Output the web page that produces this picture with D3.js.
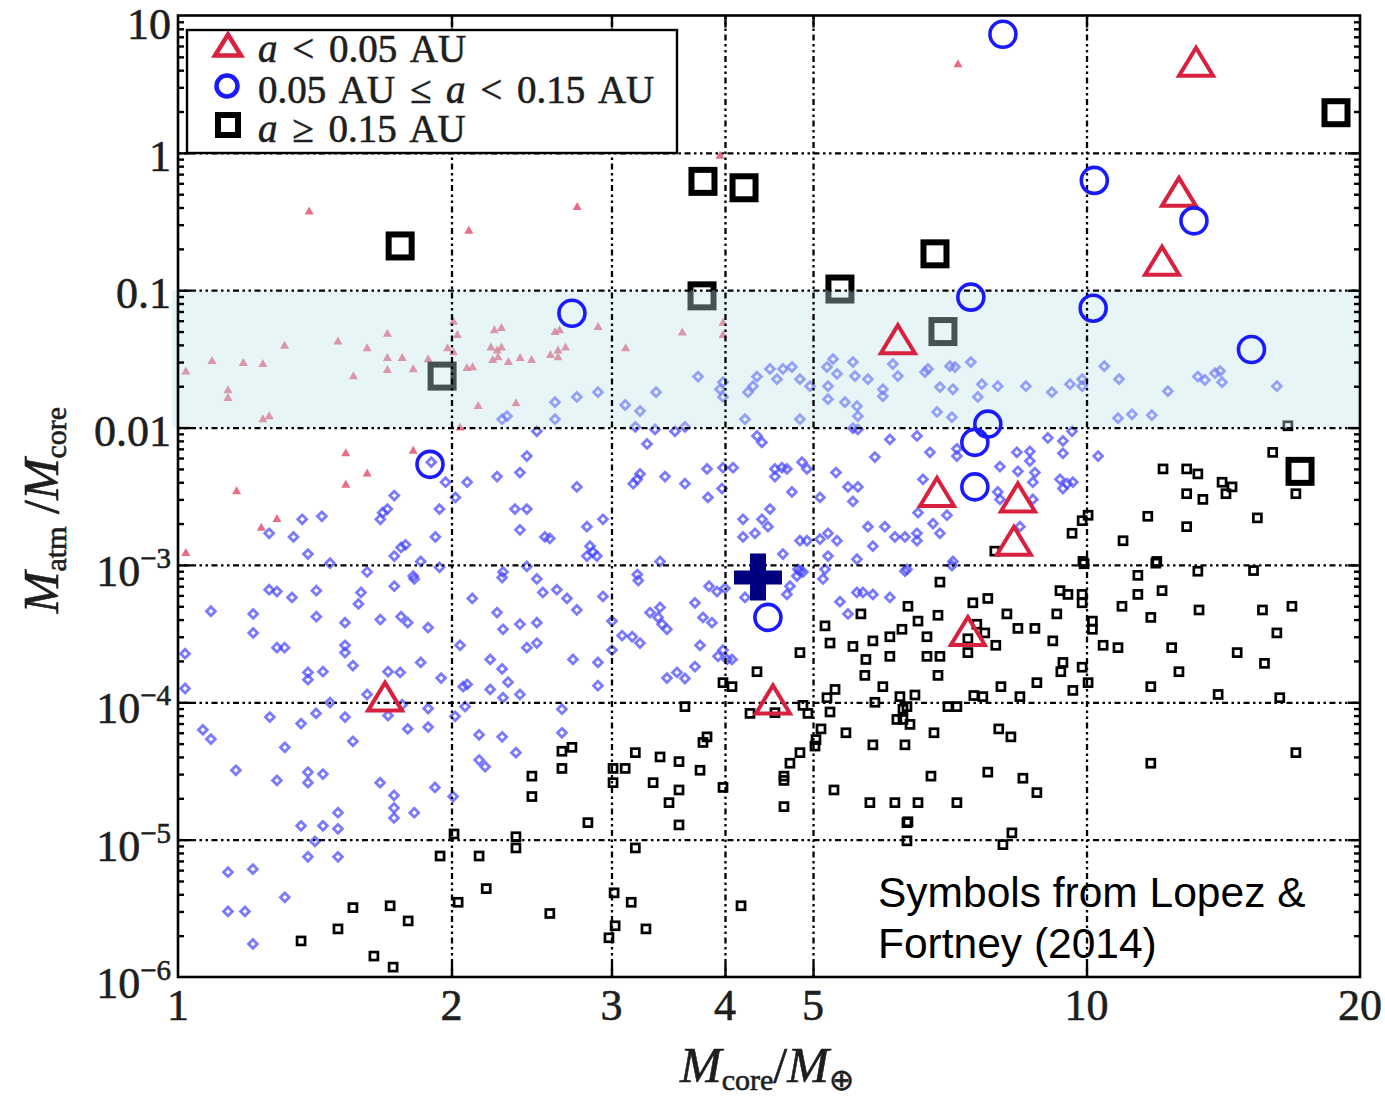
<!DOCTYPE html>
<html><head><meta charset="utf-8">
<script src="https://cdn.jsdelivr.net/npm/d3@7"></script>
<style>body{margin:0;background:#fff} svg{display:block}</style>
</head><body>
<svg id="c" width="1385" height="1100"></svg>
<script>
// ---------- axis definitions ----------
const xTickValues = [1, 2, 3, 4, 5, 10, 20];
const xTickLabels = ["1", "2", "3", "4", "5", "10", "20"];
const xGridValues = [2, 3, 4, 5, 10];
const yTickValues = [1e-6, 1e-5, 1e-4, 1e-3, 0.01, 0.1, 1, 10];
const yTickLabels = [["10","−6"], ["10","−5"], ["10","−4"], ["10","−3"], ["0.01",""], ["0.1",""], ["1",""], ["10",""]];
const yGridValues = [1e-5, 1e-4, 1e-3, 0.01, 0.1, 1];
const bandRange = [0.01, 0.1];
const legendLabels = [
  [["a","i"],[" < 0.05 AU",""]],
  [["0.05 AU ≤ ",""],["a","i"],[" < 0.15 AU",""]],
  [["a","i"],[" ≥ 0.15 AU",""]]
];
const annotation = ["Symbols from Lopez &", "Fortney (2014)"];

// ---------- data: [M_core/M_earth, M_atm/M_core] ----------
const redSmall = [
[1.02,0.026],[1.09,0.031],[1.18,0.030],[1.24,0.0295],[1.31,0.040],[1.135,0.019],[1.135,0.0167],[1.50,0.043],[1.615,0.0385],[1.56,0.024],
[1.70,0.049],[1.70,0.0326],[1.765,0.0326],[1.70,0.0267],[1.815,0.027],[1.885,0.032],[1.98,0.0385],[2.01,0.060],[2.03,0.048],[1.24,0.0117],
[1.26,0.0123],[1.815,0.0069],[1.53,0.0066],[1.615,0.0047],[1.53,0.0039],[1.16,0.0035],[1.285,0.0022],[1.235,0.0019],[1.02,0.00124],[2.01,0.036],
[2.23,0.052],[2.27,0.054],[2.21,0.039],[2.245,0.037],[2.27,0.039],[2.22,0.0315],[2.25,0.033],[2.31,0.0305],[2.38,0.0326],[2.45,0.0315],
[2.08,0.0276],[2.11,0.028],[2.57,0.0343],[2.62,0.037],[2.67,0.039],[2.62,0.033],[2.60,0.0505],[2.63,0.052],[2.90,0.055],[3.11,0.0385],
[3.59,0.050],[3.98,0.059],[3.98,0.048],[2.14,0.0146],[2.355,0.0153],[2.044,0.0102],[1.394,0.38],[2.09,0.275],[2.75,0.41],[3.95,0.97],[7.22,4.5]
];
const blueSmall = [
[1.90,0.0056],[1.97,0.0040],[2.02,0.0031],[1.73,0.0032],[1.70,0.00255],[1.68,0.0024],[1.67,0.00215],[1.94,0.00255],[1.44,0.00226],[1.37,0.00215],
[1.34,0.0016],[1.26,0.0017],[1.92,0.0016],[1.78,0.0014],[1.76,0.00134],[1.73,0.00116],[1.39,0.0012],[1.47,0.00103],[1.615,8.9e-4],[1.815,8.3e-4],
[1.85,0.00106],[1.94,9.6e-4],
[1.087,4.6e-4],[1.21,4.4e-4],[1.21,3.2e-4],[1.26,6.6e-4],[1.285,6.4e-4],[1.335,5.8e-4],[1.42,6.5e-4],[1.42,4.2e-4],[1.59,6.3e-4],[1.58,5.2e-4],
[1.73,7.0e-4],[1.82,7.9e-4],[1.67,4.0e-4],[1.76,4.2e-4],[1.79,3.8e-4],[1.885,3.5e-4],[1.527,3.8e-4],[1.285,2.5e-4],[1.31,2.5e-4],[1.527,2.6e-4],
[1.527,2.3e-4],[1.018,2.26e-4],[1.558,1.85e-4],[1.85,1.95e-4],[1.39,1.65e-4],[1.39,1.46e-4],[1.444,1.67e-4],[1.703,1.67e-4],[1.756,1.65e-4],[1.948,1.5e-4],
[1.018,1.26e-4],[1.615,1.14e-4],[1.47,9.96e-5],[1.765,9.6e-5],[1.703,8.0e-5],[1.885,9.0e-5],[1.885,6.6e-5],[1.262,7.8e-5],[1.366,7.0e-5],[1.419,8.3e-5],
[1.527,7.8e-5],[1.79,6.4e-5],[1.065,6.3e-5],[1.087,5.4e-5],[1.558,5.2e-5],[1.311,4.7e-5],[1.158,3.2e-5],[1.285,2.7e-5],[1.39,3.1e-5],[1.39,2.6e-5],
[1.444,3.0e-5],[1.669,2.6e-5],[1.918,2.4e-5],[1.729,2.1e-5],[1.729,1.7e-5],[1.729,1.44e-5],[1.82,1.57e-5],[1.50,1.57e-5],[1.366,1.26e-5],[1.444,1.26e-5],
[1.50,1.2e-5],[1.415,9.7e-6],[1.39,7.5e-6],[1.50,7.5e-6],[2.008,2.06e-5],[2.018,7.9e-5],
[1.135,5.8e-6],[1.209,6.1e-6],[1.135,3.0e-6],[1.185,3.0e-6],[1.311,3.8e-6],[1.209,1.74e-6],
[2.274,8.1e-4],[2.108,5.7e-4],[2.245,4.5e-4],[2.279,3.4e-4],[2.379,3.7e-4],[2.483,3.8e-4],[2.483,7.9e-4],[2.521,6.3e-4],[2.612,6.6e-4],[2.68,5.7e-4],
[2.748,4.7e-4],[2.421,2.5e-4],[2.483,2.7e-4],[2.044,2.6e-4],[2.206,2.05e-4],[2.274,1.75e-4],[2.308,1.4e-4],[2.06,1.3e-4],[2.081,1.35e-4],[2.206,1.24e-4],
[2.279,1.08e-4],[2.379,1.14e-4],[2.721,2.05e-4],[2.899,1.95e-4],[2.899,1.32e-4],[2.646,8.9e-5],[2.07,9.3e-5],[2.145,5.8e-5],[2.274,5.6e-5],[2.355,4.3e-5],
[2.646,6.0e-5],[2.145,3.8e-5],[2.178,3.4e-5],
[2.936,5.9e-4],[3.004,2.4e-4],[3.004,3.9e-4],[3.211,7.7e-4],[3.082,3.06e-4],[3.162,3.0e-4],[3.225,2.7e-4],[3.308,4.5e-4],[3.376,4.15e-4],[3.41,3.7e-4],
[3.453,3.4e-4],[3.393,4.9e-4],[3.707,5.3e-4],[3.783,4.15e-4],[3.87,3.8e-4],[3.755,2.6e-4],[3.93,2.16e-4],[4.021,2.05e-4],[4.072,2.05e-4],[3.707,1.82e-4],
[3.453,1.5e-4],[3.542,1.65e-4],[3.614,1.49e-4],[3.841,7.0e-4],[3.92,6.4e-4],[4.0,6.75e-4],[3.98,2.4e-4],[4.208,5.8e-4],[4.716,7.0e-4],[4.80,8.3e-4],
[4.837,9.0e-4],[4.68,6.1e-4],[5.128,7.9e-4],[5.353,5.4e-4],[5.463,4.4e-4],[5.588,6.3e-4],[5.674,6.3e-4],[5.819,6.1e-4],[6.075,5.8e-4],[6.312,9.0e-4],
[2.60,0.0153],[2.748,0.0167],[2.899,0.0181],[2.302,0.0121],[2.274,0.0115],[2.60,0.0115],[3.106,0.0146],[3.225,0.0132],[3.359,0.0181],[3.736,0.0235],
[3.98,0.0214],[3.98,0.0167],[3.95,0.019],[4.338,0.0235],[4.294,0.020],[4.24,0.0181],[4.483,0.0267],[4.633,0.0267],[4.74,0.0276],[4.563,0.0225],
[4.837,0.0225],[4.962,0.020],[5.26,0.0315],[5.18,0.0276],[5.313,0.0246],[5.56,0.0237],[5.746,0.0225],[5.532,0.030],[5.193,0.020],[5.193,0.0161],
[5.421,0.0153],[5.968,0.019],[5.968,0.0169],[6.121,0.029],[6.2,0.0237],[5.588,0.0143],[5.602,0.0121],[4.208,0.0115],[4.837,0.0115],
[5.532,0.0099],[5.602,0.0097],[2.483,0.0094],[3.187,0.0101],[3.35,0.0097],[3.524,0.0094],[3.614,0.0101],[3.283,0.0076],[4.338,0.0087],[4.393,0.0078],
[2.421,0.0062],[2.379,0.0047],[2.245,0.0044],[2.081,0.0040],[2.748,0.0037],[2.349,0.00255],[2.421,0.00255],[2.379,0.0018],[2.534,0.0016],[2.566,0.00156],
[2.819,0.0019],[2.936,0.00215],[2.841,0.00137],[2.862,0.00124],[2.819,0.00116],[2.891,0.00116],[3.225,0.0046],[3.203,0.0042],[3.17,0.0039],[3.436,0.0044],
[3.614,0.0039],[3.831,0.0031],[3.822,0.0050],[3.98,0.0051],[4.083,0.0051],[3.97,0.0036],[4.54,0.0050],[4.621,0.0051],[4.54,0.0044],[4.68,0.0050],
[4.862,0.0056],[4.924,0.0050],[4.74,0.0034],[4.187,0.00215],[4.393,0.00215],[4.46,0.0019],[4.316,0.0017],[4.483,0.00255],[4.187,0.0016],[4.837,0.0015],
[4.924,0.0015],[4.633,0.0012],[5.089,0.0031],[5.089,0.00154],[5.193,0.0017],[5.313,0.0015],[5.193,0.00116],[5.463,0.0037],[5.602,0.0037],[5.532,0.0029],
[5.849,0.0061],[5.3,0.0047],[5.746,0.0019],[5.999,0.0019],[6.153,0.0016],[5.819,0.00137],[6.075,0.0082],[6.507,0.0087],[6.344,9.3e-4],[4.813,9.3e-4],
[4.874,8.9e-4],[5.154,9.3e-4],[5.588,0.0011],[3.393,0.00106],[3.203,8.5e-4],[2.279,8.9e-4],[2.421,9.75e-4],
[6.691,0.0267],[6.641,0.0253],[7.074,0.028],[7.164,0.0276],[7.459,0.030],[6.897,0.0197],[7.128,0.019],[7.67,0.0207],[7.986,0.020],[8.576,0.020],
[9.158,0.0181],[9.59,0.0207],[9.89,0.0225],[9.89,0.020],[7.592,0.0167],[6.846,0.013],[7.11,0.0119],[10.46,0.028],[10.86,0.0225],[12.29,0.0184],
[13.26,0.0235],[13.5,0.0222],[13.85,0.0249],[14.1,0.0214],[14.03,0.0258],[16.2,0.020],[10.83,0.0117],[11.22,0.0125],[11.8,0.0123],
[6.725,0.0066],[7.2,0.0070],[7.2,0.0062],[8.03,0.0052],[8.382,0.0066],[8.663,0.0067],[8.663,0.0057],[9.066,0.0084],[9.42,0.0080],[9.42,0.0065],
[9.64,0.0094],[10.3,0.0062],[8.404,0.0048],[8.774,0.0047],[8.729,0.0040],[9.35,0.0042],[9.52,0.0039],[9.66,0.0040],[9.42,0.0036],[6.607,0.0042],
[6.524,0.0024],[6.777,0.0020],[7.021,0.0023],[6.897,0.0017],[6.507,0.0017],[6.507,0.0015],[6.312,0.0016],[8.03,0.0030],[7.986,0.0034],[8.729,0.0030],
[7.128,0.00106],[8.447,0.0019],[7.11,0.00099]
];
const blackSmall = [
[1.366,1.83e-6],[1.50,2.24e-6],[1.558,3.2e-6],[1.712,3.3e-6],[1.792,2.56e-6],[1.643,1.42e-6],[1.725,1.18e-6],[1.943,7.6e-6],[2.013,1.1e-5],[2.034,3.5e-6],
[2.145,7.6e-6],[2.184,4.4e-6],[2.355,1.05e-5],[2.355,8.7e-6],[2.566,2.9e-6],[2.826,1.33e-5],[3.02,4.1e-6],[3.154,3.5e-6],[3.028,2.36e-6],[2.981,1.93e-6],
[3.274,2.24e-6],[3.187,8.7e-6],[3.56,1.28e-5],[4.166,3.3e-6],[6.344,9.8e-6],[6.344,1.33e-5],[8.277,1.12e-5],[8.091,9.2e-6],
[2.714,4.7e-5],[2.646,4.4e-5],[2.646,3.3e-5],[2.452,2.9e-5],[2.452,2.06e-5],[3.012,3.3e-5],[3.106,3.3e-5],[3.012,2.6e-5],[3.187,4.3e-5],[3.393,4.0e-5],
[3.56,3.7e-5],[3.334,2.6e-5],[3.56,2.3e-5],[3.755,3.2e-5],[3.822,5.6e-5],[3.783,5.1e-5],[3.471,1.86e-5],[3.614,9.3e-5],[3.98,1.39e-4],[4.072,1.3e-4],
[3.98,2.4e-5],[4.338,1.67e-4],[4.262,8.3e-5],[4.54,8.4e-5],[4.837,2.3e-4],[4.874,9.5e-5],[4.936,8.3e-5],[5.038,5.35e-5],[5.025,4.8e-5],[5.102,6.4e-5],
[4.716,3.6e-5],[4.837,4.3e-5],[4.645,2.9e-5],[4.645,2.7e-5],[4.645,1.74e-5],[5.154,3.6e-4],[5.22,2.7e-4],[5.532,2.55e-4],[5.645,4.4e-4],[5.819,2.8e-4],
[5.717,2.05e-4],[5.702,1.57e-4],[5.968,1.3e-4],[6.075,3.0e-4],[6.264,3.4e-4],[6.075,2.16e-4],[6.36,5.0e-4],[5.18,1.08e-4],[5.287,1.24e-4],[5.22,8.5e-5],
[5.435,6.0e-5],[5.819,4.9e-5],[6.312,4.9e-5],[5.849,1.0e-4],[6.232,1.1e-4],[6.344,9.3e-5],[6.28,7.5e-5],[6.393,6.9e-5],[6.184,7.5e-5],[5.273,2.3e-5],
[5.775,1.86e-5],[6.153,1.86e-5],[6.36,1.35e-5],
[6.897,7.5e-4],[6.524,3.9e-4],[6.863,4.3e-4],[6.674,3.0e-4],[7.497,5.3e-4],[7.787,5.7e-4],[7.573,3.7e-4],[7.728,3.2e-4],[7.403,2.9e-4],[7.403,2.3e-4],
[7.946,2.6e-4],[8.173,4.4e-4],[8.404,3.45e-4],[8.774,3.45e-4],[6.674,2.16e-4],[6.897,2.16e-4],[6.863,1.57e-4],[8.05,1.3e-4],[8.818,1.39e-4],[7.516,1.12e-4],
[7.689,1.1e-4],[8.447,1.1e-4],[7.038,9.3e-5],[7.2,9.3e-5],[6.474,1.13e-4],[6.28,8.9e-5],[6.794,6.0e-5],[8.006,6.4e-5],[8.256,5.6e-5],[6.742,2.9e-5],
[7.787,3.1e-5],[8.511,2.8e-5],[8.818,2.2e-5],[6.524,1.86e-5],[7.2,1.86e-5],
[9.35,6.5e-4],[9.54,6.1e-4],[9.89,6.1e-4],[9.89,5.3e-4],[9.274,4.4e-4],[9.181,2.8e-4],[10.15,3.9e-4],[10.15,3.4e-4],[9.42,1.95e-4],[9.37,1.67e-4],
[9.89,1.8e-4],[9.66,1.22e-4],[10.04,1.39e-4],[9.94,1.02e-3],[10.43,2.6e-4],[10.83,2.5e-4],[10.94,5.0e-4],[11.39,8.4e-4],[11.39,6.1e-4],[12.11,6.5e-4],
[11.77,4.15e-4],[11.92,1.03e-3],[12.41,2.5e-4],[12.64,1.67e-4],[11.77,1.3e-4],[13.26,9.0e-4],[13.3,4.7e-4],[14.65,2.3e-4],[15.27,9.1e-4],[15.62,4.7e-4],
[16.2,3.2e-4],[16.83,5.0e-4],[15.7,1.92e-4],[13.96,1.14e-4],[16.32,1.08e-4],[11.77,3.6e-5],[17.0,4.3e-5],
[16.66,0.0103],[16.03,0.0066],[12.14,0.0050],[12.89,0.0050],[13.26,0.0046],[14.1,0.0040],[14.46,0.0037],[14.24,0.0033],[12.89,0.0033],[13.43,0.0030],
[17.0,0.0033],[11.68,0.00226],[12.89,0.0019],[15.42,0.0022],[10.97,0.0015],[10.04,0.0023],[9.89,0.0021],[9.64,0.0017],[9.91,0.00106],[11.95,0.00106],
[7.926,0.00126]
];
const redBig = [[13.2,4.6],[12.64,0.52],[12.11,0.164],[6.2,0.044],[6.846,0.0034],[8.404,0.0031],[8.319,0.0015],[7.403,3.3e-4],[4.517,1.05e-4],[1.69,1.1e-4]];
const blueBig = [[8.091,7.3],[10.2,0.63],[13.13,0.32],[7.459,0.089],[10.17,0.074],[2.714,0.068],[15.19,0.037],[7.787,0.0106],[7.535,0.0078],[7.535,0.0037],[1.894,0.0054],[4.46,4.15e-4]];
const blackBig = [[18.82,1.96],[3.783,0.62],[4.198,0.557],[1.756,0.21],[6.811,0.184],[3.774,0.091],[5.353,0.102],[6.95,0.050],[1.953,0.0237],[17.18,0.0048]];
const highlight = [[4.349,8.1e-4]];

// ---------- layout ----------
const L = 178, R = 1360, T = 15.5, B = 977;
const svg = d3.select("#c");
const x = d3.scaleLog().domain([1, 20]).range([L, R]);
const y = d3.scaleLog().domain([1e-6, 10]).range([B, T]);

const RED = "#d8213e", BLUE = "#1a1aff";
const triPath = (w, h) => `M0,${-h/2}L${w/2},${h/2}L${-w/2},${h/2}Z`;
const diamondPath = s => `M0,${-s}L${s},0L0,${s}L${-s},0Z`;

const plot = svg.append("g");
svg.append("clipPath").attr("id","pc").append("rect").attr("x",L).attr("y",T).attr("width",R-L).attr("height",B-T);
const pts = plot.append("g").attr("clip-path","url(#pc)");

// small points
pts.append("g").selectAll("path").data(blueSmall).join("path")
  .attr("transform", d => `translate(${x(d[0])},${y(d[1])})`)
  .attr("d", diamondPath(4.4)).attr("fill","none").attr("stroke","#4646ff")
  .attr("stroke-width",2.8).attr("opacity",0.72);
pts.append("g").selectAll("path").data(redSmall).join("path")
  .attr("transform", d => `translate(${x(d[0])},${y(d[1])})`)
  .attr("d", triPath(9, 8)).attr("fill","#e23c5c").attr("opacity",0.75);
pts.append("g").selectAll("rect").data(blackSmall).join("rect")
  .attr("x", d => x(d[0]) - 4).attr("y", d => y(d[1]) - 4)
  .attr("width", 8).attr("height", 8).attr("fill","none").attr("stroke","#000").attr("stroke-width",2.7);
// big squares
pts.append("g").selectAll("rect").data(blackBig).join("rect")
  .attr("x", d => x(d[0]) - 11.5).attr("y", d => y(d[1]) - 11.5)
  .attr("width", 23).attr("height", 23).attr("fill","none").attr("stroke","#000").attr("stroke-width",6);

// band
plot.append("rect").attr("x", L - 6).attr("width", R - L + 6)
  .attr("y", y(bandRange[1])).attr("height", y(bandRange[0]) - y(bandRange[1]))
  .attr("fill", "rgb(190,226,232)").attr("opacity", 0.36);

// grid
const dash = "2.5,3.5,2.5,3.5,6,3.5";
const gx = plot.append("g").attr("transform",`translate(0,${B})`)
  .call(d3.axisBottom(x).tickValues(xGridValues).tickSize(-(B - T)).tickFormat(""));
gx.select(".domain").remove();
gx.selectAll("line").attr("stroke","#000").attr("stroke-width",2.3).attr("stroke-dasharray",dash);
const gy = plot.append("g").attr("transform",`translate(${L},0)`)
  .call(d3.axisLeft(y).tickValues(yGridValues).tickSize(-(R - L)).tickFormat(""));
gy.select(".domain").remove();
gy.selectAll("line").attr("stroke","#000").attr("stroke-width",2.3).attr("stroke-dasharray",dash);

// big triangles, circles, highlight
const fg = svg.append("g").attr("clip-path","url(#pc)");
fg.append("g").selectAll("path").data(redBig).join("path")
  .attr("transform", d => `translate(${x(d[0])},${y(d[1])})`)
  .attr("d", triPath(34, 28)).attr("fill","none").attr("stroke",RED).attr("stroke-width",4);
fg.append("g").selectAll("circle").data(blueBig).join("circle")
  .attr("cx", d => x(d[0])).attr("cy", d => y(d[1])).attr("r", 13)
  .attr("fill","none").attr("stroke",BLUE).attr("stroke-width",3.6);
const hl = fg.append("g").selectAll("g").data(highlight).join("g")
  .attr("transform", d => `translate(${x(d[0])},${y(d[1])})`);
hl.append("rect").attr("x",-24).attr("y",-7).attr("width",48).attr("height",14).attr("fill","#000080");
hl.append("rect").attr("x",-8).attr("y",-24).attr("width",16).attr("height",47).attr("fill","#000080");

// ticks
function styleTicks(g){ g.select(".domain").remove(); g.selectAll("line").attr("stroke","#000").attr("stroke-width",2.4); }
const minorY = [];
for (let e = -6; e < 1; e++) for (let m = 2; m <= 9; m++) minorY.push(m * Math.pow(10, e));
const majY = [1e-5,1e-4,1e-3,0.01,0.1,1];
svg.append("g").attr("transform",`translate(0,${B})`).call(d3.axisBottom(x).tickValues(xGridValues).tickSize(-12).tickFormat("")).call(styleTicks);
svg.append("g").attr("transform",`translate(0,${T})`).call(d3.axisTop(x).tickValues(xGridValues).tickSize(-12).tickFormat("")).call(styleTicks);
svg.append("g").attr("transform",`translate(${L},0)`).call(d3.axisLeft(y).tickValues(majY).tickSize(-12).tickFormat("")).call(styleTicks);
svg.append("g").attr("transform",`translate(${R},0)`).call(d3.axisRight(y).tickValues(majY).tickSize(-12).tickFormat("")).call(styleTicks);
svg.append("g").attr("transform",`translate(${L},0)`).call(d3.axisLeft(y).tickValues(minorY).tickSize(-6).tickFormat("")).call(styleTicks);
svg.append("g").attr("transform",`translate(${R},0)`).call(d3.axisRight(y).tickValues(minorY).tickSize(-6).tickFormat("")).call(styleTicks);

// frame
svg.append("rect").attr("x",L).attr("y",T).attr("width",R-L).attr("height",B-T)
  .attr("fill","none").attr("stroke","#000").attr("stroke-width",2.6);

// tick labels
const SERIF = "'Liberation Serif', 'Times New Roman', serif";
const TXT = "#1e1e1e";
const heavy = s => s.attr("stroke",TXT).attr("stroke-width",0.6);
svg.append("g").selectAll("text").data(xTickValues).join("text")
  .attr("x", d => x(d)).attr("y", 1020).attr("text-anchor","middle")
  .attr("font-family",SERIF).attr("font-size",44).attr("fill",TXT).call(heavy)
  .text((d,i) => xTickLabels[i]);
const yl = svg.append("g").selectAll("text").data(yTickValues).join("text")
  .attr("x", 171).attr("y", (d,i) => y(d) + (yTickLabels[i][1] ? 21 : (d === 10 ? 23 : 18)))
  .attr("text-anchor","end").attr("font-family",SERIF).attr("font-size",44).attr("fill",TXT).call(heavy);
yl.append("tspan").text((d,i) => yTickLabels[i][0]);
yl.filter((d,i) => yTickLabels[i][1]).append("tspan")
  .attr("font-size",29).attr("dy",-18).text(d => yTickLabels[yTickValues.indexOf(d)][1]);

// axis titles
const xt = svg.append("text").attr("x",767).attr("y",1082).attr("text-anchor","middle")
  .attr("font-family",SERIF).attr("font-size",50).attr("fill",TXT).call(heavy);
xt.append("tspan").attr("font-style","italic").text("M");
xt.append("tspan").attr("font-size",30).attr("dy",8).text("core");
xt.append("tspan").attr("dy",-8).text("/");
xt.append("tspan").attr("font-style","italic").text("M");
xt.append("tspan").attr("font-size",30).attr("dy",8).text("⊕");
const yt = svg.append("text").attr("transform","translate(58,510) rotate(-90)").attr("text-anchor","middle")
  .attr("font-family",SERIF).attr("font-size",50).attr("fill",TXT).call(heavy);
yt.append("tspan").attr("font-style","italic").text("M");
yt.append("tspan").attr("font-size",30).attr("dy",8).text("atm");
yt.append("tspan").attr("dy",-8).text(" /");
yt.append("tspan").attr("font-style","italic").text("M");
yt.append("tspan").attr("font-size",30).attr("dy",8).text("core");

// legend
const lg = svg.append("g");
lg.append("rect").attr("x",187).attr("y",30).attr("width",490).attr("height",123)
  .attr("fill","#fff").attr("stroke","#000").attr("stroke-width",2.4);
const ly = [45, 86, 125];
lg.append("path").attr("transform",`translate(228,${ly[0]})`).attr("d",triPath(26,21))
  .attr("fill","none").attr("stroke",RED).attr("stroke-width",4.5);
lg.append("circle").attr("cx",227).attr("cy",ly[1]).attr("r",10.5)
  .attr("fill","none").attr("stroke",BLUE).attr("stroke-width",4.5);
lg.append("rect").attr("x",228-10).attr("y",ly[2]-10).attr("width",20).attr("height",20)
  .attr("fill","none").attr("stroke","#000").attr("stroke-width",6);
const lt = lg.selectAll("text").data(legendLabels).join("text")
  .attr("x",258).attr("y",(d,i) => ly[i] + 17)
  .attr("font-family",SERIF).attr("font-size",39).attr("fill",TXT).attr("word-spacing",5).call(heavy);
lt.selectAll("tspan").data(d => d).join("tspan")
  .attr("font-style", d => d[1] === "i" ? "italic" : "normal").text(d => d[0]);

// annotation
svg.append("g").selectAll("text").data(annotation).join("text")
  .attr("x",878).attr("y",(d,i) => 907 + i * 51)
  .attr("font-family","'Liberation Sans', Arial, sans-serif").attr("font-size",42.5).attr("fill","#000")
  .text(d => d);
</script>
</body></html>
